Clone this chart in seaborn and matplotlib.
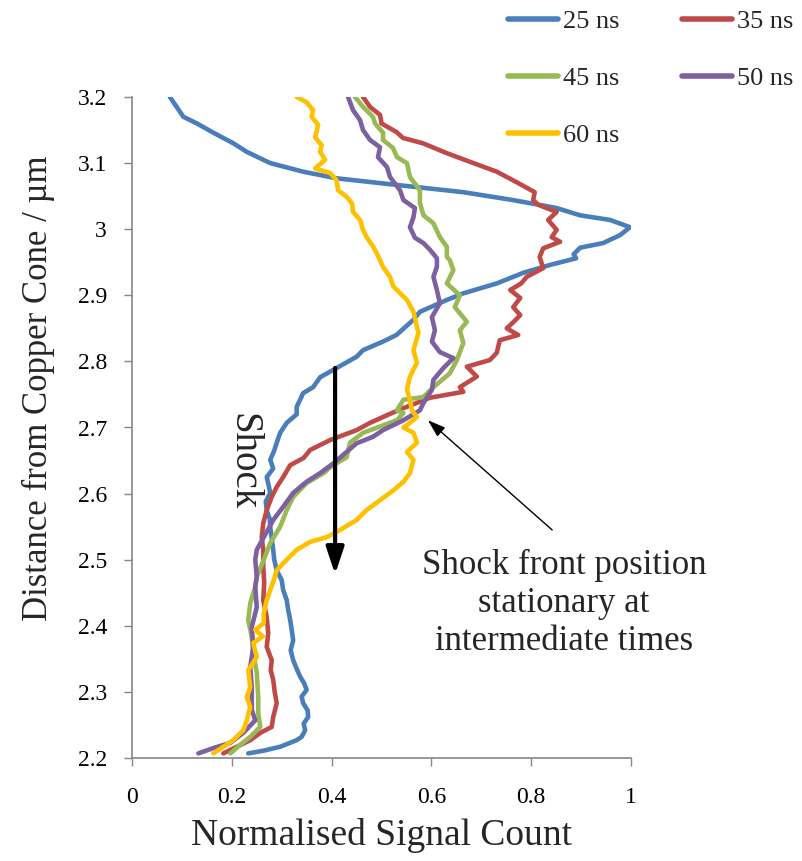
import matplotlib
matplotlib.use("Agg")
import matplotlib.pyplot as plt
from matplotlib.ticker import FuncFormatter
from matplotlib.lines import Line2D
import seaborn as sns
import pandas as pd

# ---------------- data ----------------
labels = ["25 ns", "35 ns", "45 ns", "50 ns", "60 ns"]
colors = ["#4A7EBB", "#BE4B48", "#98B954", "#7D60A0", "#FFC000"]

y_25 = [3.200, 3.170, 3.160, 3.146, 3.130, 3.117, 3.100, 3.087, 3.077, 3.067, 3.056, 3.044, 3.032, 3.021,
        3.014, 3.003, 2.991, 2.979, 2.972, 2.962, 2.956, 2.946, 2.934, 2.918, 2.903, 2.893, 2.875, 2.863,
        2.840, 2.830, 2.817, 2.807, 2.790, 2.776, 2.761, 2.752, 2.731, 2.720, 2.707, 2.692, 2.677, 2.665,
        2.651, 2.638, 2.625, 2.612, 2.601, 2.588, 2.575, 2.562, 2.550, 2.532, 2.515, 2.500, 2.484, 2.469,
        2.454, 2.439, 2.424, 2.409, 2.394, 2.378, 2.363, 2.348, 2.335, 2.323, 2.313, 2.303, 2.293, 2.283,
        2.272, 2.262, 2.252, 2.242, 2.232, 2.227, 2.217, 2.211, 2.207]
x_25 = [0.076, 0.103, 0.130, 0.163, 0.203, 0.230, 0.277, 0.343, 0.410, 0.530, 0.664, 0.764, 0.851, 0.898,
        0.958, 0.998, 0.978, 0.944, 0.898, 0.885, 0.890, 0.838, 0.784, 0.731, 0.664, 0.631, 0.577, 0.564,
        0.530, 0.503, 0.463, 0.450, 0.410, 0.377, 0.363, 0.343, 0.330, 0.330, 0.310, 0.297, 0.290, 0.285,
        0.277, 0.283, 0.270, 0.274, 0.277, 0.268, 0.270, 0.276, 0.277, 0.280, 0.283, 0.285, 0.290, 0.300,
        0.303, 0.310, 0.313, 0.317, 0.320, 0.323, 0.318, 0.323, 0.330, 0.337, 0.345, 0.350, 0.340, 0.343,
        0.352, 0.353, 0.344, 0.347, 0.340, 0.330, 0.297, 0.263, 0.233]

y_35 = [3.200, 3.185, 3.173, 3.160, 3.147, 3.138, 3.130, 3.115, 3.102, 3.087, 3.071, 3.056, 3.044, 3.037,
        3.026, 3.014, 2.999, 2.988, 2.981, 2.971, 2.958, 2.941, 2.928, 2.918, 2.908, 2.896, 2.882, 2.870,
        2.860, 2.850, 2.840, 2.832, 2.813, 2.802, 2.792, 2.777, 2.761, 2.754, 2.745, 2.729, 2.720, 2.707,
        2.696, 2.681, 2.666, 2.654, 2.643, 2.625, 2.610, 2.595, 2.575, 2.555, 2.534, 2.515, 2.489, 2.465,
        2.439, 2.413, 2.389, 2.368, 2.348, 2.333, 2.318, 2.300, 2.283, 2.262, 2.247, 2.238, 2.227, 2.217,
        2.207]
x_35 = [0.463, 0.477, 0.497, 0.500, 0.530, 0.543, 0.583, 0.631, 0.677, 0.731, 0.771, 0.807, 0.804, 0.814,
        0.851, 0.834, 0.851, 0.841, 0.858, 0.824, 0.817, 0.824, 0.791, 0.780, 0.758, 0.778, 0.764, 0.778,
        0.765, 0.751, 0.774, 0.737, 0.731, 0.717, 0.671, 0.691, 0.657, 0.664, 0.597, 0.543, 0.515, 0.477,
        0.450, 0.397, 0.357, 0.344, 0.317, 0.303, 0.290, 0.280, 0.270, 0.263, 0.260, 0.263, 0.263, 0.265,
        0.263, 0.270, 0.273, 0.270, 0.280, 0.278, 0.283, 0.286, 0.290, 0.283, 0.280, 0.257, 0.237, 0.210,
        0.183]

y_45 = [3.200, 3.185, 3.170, 3.160, 3.146, 3.135, 3.123, 3.109, 3.100, 3.079, 3.059, 3.040, 3.021, 3.009,
        2.988, 2.973, 2.958, 2.953, 2.938, 2.918, 2.900, 2.882, 2.860, 2.847, 2.828, 2.802, 2.782, 2.761,
        2.746, 2.742, 2.726, 2.722, 2.711, 2.692, 2.677, 2.655, 2.640, 2.631, 2.616, 2.595, 2.575, 2.550,
        2.525, 2.500, 2.474, 2.459, 2.434, 2.409, 2.383, 2.359, 2.329, 2.292, 2.268, 2.247, 2.232, 2.220,
        2.207]
x_45 = [0.447, 0.463, 0.483, 0.487, 0.503, 0.503, 0.523, 0.531, 0.551, 0.557, 0.577, 0.577, 0.584, 0.604,
        0.617, 0.631, 0.631, 0.637, 0.644, 0.631, 0.657, 0.647, 0.671, 0.657, 0.664, 0.651, 0.637, 0.604,
        0.584, 0.544, 0.531, 0.544, 0.531, 0.463, 0.437, 0.430, 0.397, 0.384, 0.350, 0.323, 0.310, 0.297,
        0.277, 0.264, 0.250, 0.247, 0.237, 0.233, 0.240, 0.243, 0.250, 0.253, 0.253, 0.257, 0.237, 0.217,
        0.197]

y_50 = [3.200, 3.180, 3.165, 3.150, 3.135, 3.124, 3.109, 3.094, 3.079, 3.059, 3.044, 3.032, 3.018, 3.003,
        2.987, 2.979, 2.969, 2.956, 2.943, 2.928, 2.908, 2.888, 2.867, 2.847, 2.830, 2.814, 2.805, 2.790,
        2.772, 2.757, 2.737, 2.726, 2.711, 2.696, 2.686, 2.676, 2.663, 2.646, 2.631, 2.618, 2.601, 2.580,
        2.560, 2.534, 2.515, 2.500, 2.474, 2.459, 2.428, 2.398, 2.368, 2.338, 2.307, 2.273, 2.257, 2.238,
        2.223, 2.215, 2.207]
x_50 = [0.433, 0.443, 0.457, 0.463, 0.477, 0.497, 0.493, 0.511, 0.517, 0.537, 0.544, 0.567, 0.564, 0.557,
        0.567, 0.584, 0.597, 0.611, 0.611, 0.604, 0.611, 0.617, 0.601, 0.607, 0.601, 0.617, 0.644, 0.624,
        0.604, 0.601, 0.584, 0.577, 0.544, 0.503, 0.483, 0.450, 0.430, 0.404, 0.377, 0.350, 0.323, 0.303,
        0.283, 0.264, 0.250, 0.247, 0.250, 0.247, 0.250, 0.240, 0.243, 0.237, 0.240, 0.240, 0.247, 0.223,
        0.197, 0.163, 0.133]

y_60 = [3.200, 3.192, 3.180, 3.170, 3.158, 3.139, 3.127, 3.117, 3.105, 3.092, 3.085, 3.074, 3.059, 3.049,
        3.039, 3.026, 3.014, 2.999, 2.988, 2.973, 2.958, 2.943, 2.928, 2.913, 2.893, 2.875, 2.843, 2.817,
        2.798, 2.777, 2.757, 2.742, 2.726, 2.716, 2.707, 2.700, 2.692, 2.677, 2.663, 2.651, 2.631, 2.618,
        2.605, 2.590, 2.575, 2.560, 2.545, 2.534, 2.527, 2.515, 2.500, 2.484, 2.469, 2.439, 2.419, 2.404,
        2.394, 2.384, 2.374, 2.353, 2.333, 2.307, 2.292, 2.277, 2.257, 2.242, 2.227, 2.217, 2.207]
x_60 = [0.330, 0.350, 0.363, 0.360, 0.373, 0.367, 0.380, 0.377, 0.387, 0.367, 0.397, 0.410, 0.413, 0.430,
        0.441, 0.443, 0.457, 0.463, 0.470, 0.484, 0.494, 0.503, 0.517, 0.524, 0.551, 0.564, 0.574, 0.564,
        0.571, 0.557, 0.551, 0.557, 0.561, 0.571, 0.557, 0.544, 0.564, 0.571, 0.551, 0.564, 0.557, 0.544,
        0.524, 0.497, 0.470, 0.450, 0.417, 0.390, 0.357, 0.330, 0.310, 0.290, 0.284, 0.270, 0.264, 0.264,
        0.247, 0.262, 0.243, 0.250, 0.233, 0.237, 0.230, 0.237, 0.230, 0.223, 0.203, 0.183, 0.163]

x_ticks = [0, 0.2, 0.4, 0.6, 0.8, 1.0]
y_ticks = [2.2, 2.3, 2.4, 2.5, 2.6, 2.7, 2.8, 2.9, 3.0, 3.1, 3.2]

# ---------------- build long table ----------------
series = [(labels[0], y_25, x_25), (labels[1], y_35, x_35), (labels[2], y_45, x_45),
          (labels[3], y_50, x_50), (labels[4], y_60, x_60)]
frames = []
for lab, ys, xs in series:
    frames.append(pd.DataFrame({"signal": xs, "dist": ys, "series": lab}))
df = pd.concat(frames, ignore_index=True)

# ---------------- style ----------------
sns.set_style("ticks")
plt.rcParams["font.family"] = ["Liberation Serif", "DejaVu Serif"]

fig = plt.figure(figsize=(8.03, 8.61), dpi=100)
ax = fig.add_axes([132 / 803, 1 - 758 / 861, (631 - 132) / 803, (758 - 97) / 861])

palette = dict(zip(labels, colors))
sns.lineplot(data=df, x="signal", y="dist", hue="series", palette=palette,
             sort=False, estimator=None, orient="y", linewidth=3.3,
             legend=False, ax=ax)

ax.set_xlim(0, 1)
ax.set_ylim(2.2, 3.2)
ax.set_xticks(x_ticks)
ax.set_yticks(y_ticks)
fmt = FuncFormatter(lambda v, p: f"{v:g}")
ax.xaxis.set_major_formatter(fmt)
ax.yaxis.set_major_formatter(fmt)

gray = "#868686"
for side in ["top", "right"]:
    ax.spines[side].set_visible(False)
for side in ["left", "bottom"]:
    ax.spines[side].set_color(gray)
    ax.spines[side].set_linewidth(1.2)
ax.tick_params(axis="both", direction="out", length=6, width=1, color=gray,
               labelsize=17, labelcolor="black")
ax.tick_params(axis="y", pad=12)
ax.tick_params(axis="x", pad=15)

ax.set_xlabel("Normalised Signal Count", fontsize=27, labelpad=7)
ax.set_ylabel("Distance from Copper Cone / µm", fontsize=25, labelpad=16)
ax.yaxis.label.set_y(0.56)

# annotations
ax.annotate("", xy=(0.407, 2.478), xytext=(0.407, 2.79),
            arrowprops=dict(arrowstyle="-|>,head_width=0.3,head_length=0.9",
                            lw=3, color="black", mutation_scale=18, shrinkA=0, shrinkB=0))
ax.text(0.222, 2.648, "Shock", rotation=-90, ha="center", va="center", fontsize=28)

ax.annotate("", xy=(0.593, 2.711), xytext=(0.842, 2.545),
            arrowprops=dict(arrowstyle="-|>,head_width=0.2,head_length=0.6",
                            lw=1, color="black", mutation_scale=18, shrinkA=0, shrinkB=0))
ax.text(0.866, 2.517, "Shock front position\nstationary at\nintermediate times",
        ha="center", va="top", fontsize=25, linespacing=1.2, clip_on=False)

# legend (row-wise order as in the reference: 25|35, 45|50, 60)
order = [0, 2, 4, 1, 3]
handles = [Line2D([0], [0], color=colors[i], lw=4) for i in order]
fig.legend(handles, [labels[i] for i in order], loc="upper left",
           bbox_to_anchor=(508 / 803, 1 - 10 / 861),
           ncol=2, frameon=False, fontsize=19, handlelength=1.9, handletextpad=0.2,
           columnspacing=2.35, labelspacing=1.27, borderpad=0, borderaxespad=0)

fig.savefig("out.png", dpi=100)
